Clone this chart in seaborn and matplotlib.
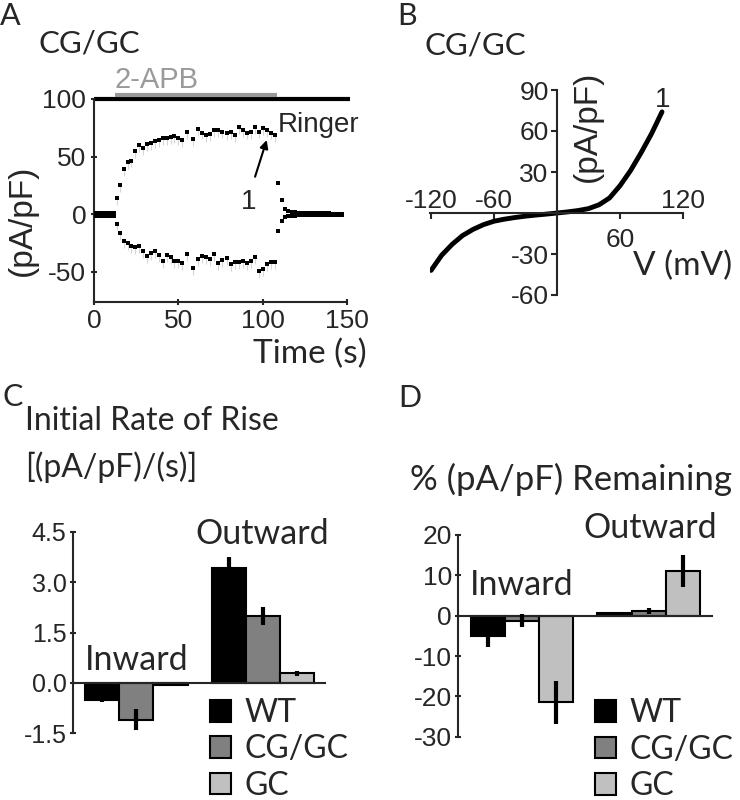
import pandas as pd
import matplotlib
matplotlib.use("Agg")
import matplotlib.pyplot as plt
import seaborn as sns

sns.set_theme(style="ticks")
plt.rcParams["font.family"] = ["Lato", "DejaVu Sans"]
plt.rcParams["axes.unicode_minus"] = False
ARIAL = "Liberation Sans"

# Panel A: current density during 2-APB application (CG/GC)
base_t = [0, 1, 2, 3, 4, 5, 6, 7, 8, 9, 10, 11, 12]
base_up = [1.2, 1.0, 1.4, 1.1, 1.3, 1.0, 1.2, 1.1, 1.4, 1.2, 1.0, 1.3, 1.5]
base_low = [-1.1, -1.3, -1.0, -1.2, -1.1, -1.4, -1.0, -1.2, -1.3, -1.1, -1.2, -1.0, -1.4]
apb_t = [13.4, 15.6, 17.6, 20.0, 22.1, 24.5, 26.9, 29.2, 31.6, 33.8,
         36.2, 38.5, 40.9, 43.3, 45.7, 47.6, 50.0, 52.4, 55.3, 58.7,
         61.5, 63.9, 66.3, 68.8, 71.4, 73.7, 76.1, 78.7, 81.1, 83.6,
         86.0, 88.4, 90.7, 93.3, 95.7, 98.0, 100.4, 102.8, 105.2, 107.4]
apb_up = [14.4, 25, 39.4, 45, 46.6, 55, 60.3, 57.5, 60.9, 61.8,
          63.8, 64.1, 65.8, 66.1, 66.7, 68.1, 66.1, 64.1, 71.2, 65.2,
          74.1, 70.9, 69, 69.8, 72.7, 72.7, 71.8, 70.4, 71.6, 69,
          75.6, 72.7, 70.9, 71.6, 75.6, 71.8, 74.7, 72.7, 70.9, 68.4]
apb_low = [-8, -16.4, -23.3, -25.3, -27.3, -28.2, -27.3, -31.9, -35.9, -33.6,
           -31.6, -35.1, -40.2, -35.1, -36.8, -40.2, -40.8, -42.2, -34.2, -46.3,
           -38.8, -35.9, -36.8, -38.8, -34.5, -42.2, -39.4, -37.9, -43.1, -41.7,
           -41.7, -40.2, -42.2, -40.2, -37.4, -48.9, -47.4, -43.1, -41.7, -41.2]
wash_t = [109.3, 111.3, 113.3, 115.3, 117.3, 119.3, 121.3, 123.3, 125.3, 127.3,
          129.3, 131.3, 133.3, 135.3, 137.3, 139.3, 141.3, 143.3, 145.3, 147.3]
wash_up = [27.3, 12, 4.3, 3, 2.2, 1.8, 1.5, 1.3, 1.2, 1.0,
           1.0, 0.9, 0.8, 0.8, 0.7, 0.7, 0.6, 0.6, 0.6, 0.5]
wash_low = [-14.4, -5.8, -2.5, -1.8, -1.4, -1.2, -1.0, -0.9, -0.8, -0.7,
            -0.7, -0.6, -0.6, -0.5, -0.5, -0.5, -0.4, -0.4, -0.4, -0.4]
sem_a = 6.0

# Panel B: I-V relation at point 1
iv_mv = [-120, -110, -100, -90, -80, -70, -60, -50, -40, -30, -20, -10,
         0, 10, 20, 30, 40, 50, 60, 70, 80, 90, 100]
iv_pa = [-42, -31, -23, -16.5, -12, -8.5, -6, -4.5, -3.3, -2.3, -1.5, -0.8,
         0, 0.8, 1.8, 3.2, 6, 11, 20, 31, 44, 58, 74]

# Panels C and D
directions = ["Inward", "Outward"]
genotypes = ["WT", "CG/GC", "GC"]
palette = ["#000000", "#808080", "#c0c0c0"]
rise_inward = [-0.5, -1.09, -0.05]
rise_outward = [3.42, 1.99, 0.28]
rise_inward_sem = [0.08, 0.32, 0.02]
rise_outward_sem = [0.33, 0.28, 0.08]
remain_inward = [-5.1, -1.3, -21.5]
remain_outward = [0.6, 1.1, 11.0]
remain_inward_sem = [2.7, 1.6, 5.4]
remain_outward_sem = [0.3, 0.7, 4.0]

W, H = 740, 800
fig = plt.figure(figsize=(W / 100, H / 100), dpi=100)


def ftext(x, y, s, **kw):
    # place text using pixel coordinates measured from the top-left corner
    kw.setdefault("va", "baseline")
    fig.text(x / W, 1 - y / H, s, **kw)


def axes_px(left, top, right, bottom):
    return fig.add_axes([left / W, 1 - bottom / H, (right - left) / W, (bottom - top) / H])


def style_ticks(ax, size):
    for lab in ax.get_xticklabels() + ax.get_yticklabels():
        lab.set_fontfamily(ARIAL)
        lab.set_fontsize(size)


# ---------------- A ----------------
ax = axes_px(94, 99, 347, 301.7)
a_df = pd.DataFrame({
    "t": base_t * 2 + apb_t * 2 + wash_t * 2,
    "pA": base_up + base_low + apb_up + apb_low + wash_up + wash_low,
})
n = len(apb_t)
ax.errorbar(apb_t, apb_up, yerr=[[sem_a] * n, [0] * n], fmt="none",
            ecolor="#d6d6d6", elinewidth=0.8, zorder=1)
ax.errorbar(apb_t, apb_low, yerr=[[sem_a] * n, [0] * n], fmt="none",
            ecolor="#d6d6d6", elinewidth=0.8, zorder=1)
sns.scatterplot(data=a_df, x="t", y="pA", marker="s", s=12, color="black",
                linewidth=0, ax=ax, zorder=3)
ax.plot([0, 151.5], [100, 100], color="black", lw=3, clip_on=False,
        solid_capstyle="butt")
ax.plot([12.5, 108.5], [103.5, 103.5], color="#9a9a9a", lw=3, clip_on=False,
        solid_capstyle="butt")
ax.annotate("", xy=(102.4, 64.4), xytext=(95.5, 32.6),
            arrowprops=dict(arrowstyle="-|>", color="black", lw=1.5,
                            mutation_scale=12, shrinkA=0, shrinkB=0))
ax.set_xlim(0, 150)
ax.set_ylim(-75.8, 100)
ax.set_xticks([0, 50, 100, 150])
ax.set_yticks([-50, 0, 50, 100])
ax.set_xlabel("")
ax.set_ylabel("")
sns.despine(ax=ax)
for s in ["left", "bottom"]:
    ax.spines[s].set_linewidth(1.5)
ax.tick_params(direction="inout", length=5, width=1.5, pad=3)
style_ticks(ax, 19)

ftext(0, 25, "A", fontsize=22)
ftext(38, 53, "CG/GC", fontsize=22.5)
ftext(115, 88, "2-APB", fontsize=21, color="#9a9a9a", family=ARIAL)
ftext(278, 132, "Ringer", fontsize=20, family=ARIAL)
ftext(249, 209, "1", fontsize=20, family=ARIAL, ha="center")
ftext(22, 220, "(pA/pF)", fontsize=24, family=ARIAL, rotation=90,
      va="center", ha="center")
ftext(367, 363, "Time (s)", fontsize=24, ha="right")

# ---------------- B ----------------
ax = axes_px(430, 90, 683, 295)
sns.lineplot(x=iv_mv, y=iv_pa, color="black", linewidth=3.5, sort=False,
             estimator=None, ax=ax)
ax.set_xlim(-121, 119)
ax.set_ylim(-60, 90)
ax.spines["left"].set_position(("data", 0))
ax.spines["bottom"].set_position(("data", 0))
sns.despine(ax=ax)
for s in ["left", "bottom"]:
    ax.spines[s].set_linewidth(1.5)
ax.set_yticks([-60, -30, 30, 60, 90])
ax.set_xticks([-120, -60, 60, 120])
ax.tick_params(axis="x", labelbottom=False, length=4, width=1.5)
ax.tick_params(axis="y", length=4, width=1.5, pad=2)
style_ticks(ax, 19)
for v in [-120, -60, 120]:
    ax.text(v, 4, str(v), ha="center", va="baseline", fontsize=19, family=ARIAL)
ax.text(60, -25, "60", ha="center", va="baseline", fontsize=19, family=ARIAL)

ftext(397, 25, "B", fontsize=22)
ftext(425, 55, "CG/GC", fontsize=22.5)
ftext(663, 107, "1", fontsize=20, family=ARIAL, ha="center")
ftext(587, 126, "(pA/pF)", fontsize=24, family=ARIAL, rotation=90,
      va="center", ha="center")
ftext(633, 275, "V (mV)", fontsize=24)


# ---------------- C & D ----------------
def bar_panel(ax, inward, outward, inward_sem, outward_sem):
    df = pd.DataFrame({
        "direction": ["Inward"] * 3 + ["Outward"] * 3,
        "genotype": genotypes * 2,
        "value": inward + outward,
        "sem": inward_sem + outward_sem,
    })
    sns.barplot(data=df, x="direction", y="value", hue="genotype",
                order=directions, hue_order=genotypes, palette=palette,
                edgecolor="black", linewidth=1.5, width=0.81,
                errorbar=None, ax=ax)
    for genotype, bars in zip(genotypes, ax.containers):
        sub = df[df.genotype == genotype].set_index("direction").loc[directions]
        for bar, val, err in zip(bars, sub["value"], sub["sem"]):
            xc = bar.get_x() + bar.get_width() / 2
            ax.errorbar(xc, val, yerr=err, color="black", elinewidth=3,
                        capsize=0, fmt="none", zorder=5)
    ax.spines["bottom"].set_position(("data", 0))
    sns.despine(ax=ax)
    for s in ["left", "bottom"]:
        ax.spines[s].set_linewidth(1.5)
    ax.tick_params(axis="x", length=0, labelbottom=False)
    ax.tick_params(axis="y", direction="inout", length=5, width=1.5, pad=2)
    ax.set_xlabel("")
    ax.set_ylabel("")
    return df


legend_kw = dict(frameon=False, title=None, fontsize=23, handlelength=0.66,
                 handleheight=0.66, labelspacing=0.2, handletextpad=0.4,
                 borderpad=0, borderaxespad=0)

ax = axes_px(72.7, 531.7, 325, 733.3)
bar_panel(ax, rise_inward, rise_outward, rise_inward_sem, rise_outward_sem)
ax.set_xlim(-0.502, 1.49)
ax.set_ylim(-1.5, 4.5)
ax.set_yticks([-1.5, 0, 1.5, 3.0, 4.5])
ax.set_yticklabels(["-1.5", "0.0", "1.5", "3.0", "4.5"])
style_ticks(ax, 18)
sns.move_legend(ax, "upper left", bbox_to_anchor=(0.545, 0.175), **legend_kw)

ftext(2, 406, "C", fontsize=22)
ftext(25, 430, "Initial Rate of Rise", fontsize=23)
ftext(25, 477, "[(pA/pF)/(s)]", fontsize=23)
ftext(195, 544, "Outward", fontsize=24.5)
ftext(85, 670, "Inward", fontsize=24.5)

ax = axes_px(458.3, 535, 712, 736.7)
bar_panel(ax, remain_inward, remain_outward, remain_inward_sem, remain_outward_sem)
ax.set_xlim(-0.505, 1.50)
ax.set_ylim(-30, 20)
ax.set_yticks([-30, -20, -10, 0, 10, 20])
style_ticks(ax, 19)
sns.move_legend(ax, "upper left", bbox_to_anchor=(0.54, 0.19), **legend_kw)

ftext(398, 407, "D", fontsize=22)
ftext(410, 490, "% (pA/pF) Remaining", fontsize=25)
ftext(583, 538, "Outward", fontsize=24.5)
ftext(470, 595, "Inward", fontsize=24.5)

fig.savefig("out.png", dpi=100)
